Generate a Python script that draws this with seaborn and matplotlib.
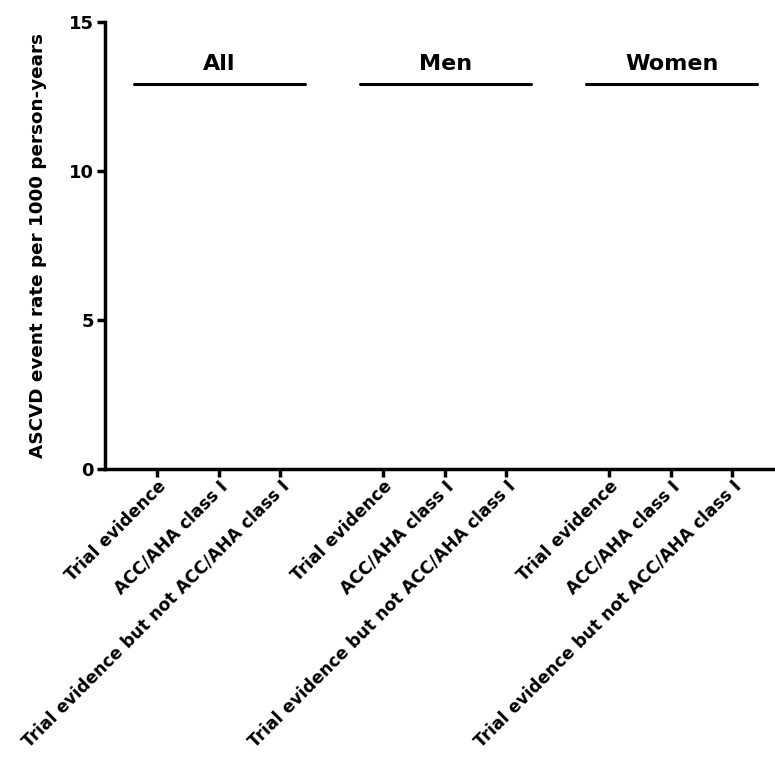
import matplotlib
matplotlib.use("Agg")
import matplotlib.pyplot as plt
import seaborn as sns
import pandas as pd
import numpy as np

groups = ["All", "Men", "Women"]
categories = ["Trial evidence", "ACC/AHA class I", "Trial evidence but not ACC/AHA class I"]
# No bars visible in the reference: all rates are empty/zero
rate_all = [0, 0, 0]
rate_men = [0, 0, 0]
rate_women = [0, 0, 0]
yticks = [0, 5, 10, 15]
ylabel = "ASCVD event rate per 1000 person-years"

sns.set_theme(style="ticks")
plt.rcParams['font.family'] = ['DejaVu Sans']
plt.rcParams['font.weight'] = 'bold'
plt.rcParams['text.color'] = 'black'
plt.rcParams['axes.labelcolor'] = 'black'
plt.rcParams['xtick.color'] = 'black'
plt.rcParams['ytick.color'] = 'black'

group_step = 3.67
rows = []
for gi, (g, vals) in enumerate(zip(groups, [rate_all, rate_men, rate_women])):
    for ci, (c, v) in enumerate(zip(categories, vals)):
        rows.append({"group": g, "category": c, "pos": gi * group_step + ci, "rate": v})
df = pd.DataFrame(rows)

fig = plt.figure(figsize=(7.75, 7.57), dpi=100)
ax = fig.add_axes([105/775, 1 - 469/757, 1 - 105/775, (469 - 22)/757])

sns.barplot(data=df, x="pos", y="rate", native_scale=True, color="black",
            width=0.6, ax=ax, errorbar=None)

ax.set_xlim(-0.845, 10.03)
ax.set_ylim(0, 15)
ax.set_yticks(yticks)
ax.set_yticklabels([str(t) for t in yticks], fontsize=13, fontweight='bold', color='black')
ax.set_xticks(df["pos"])
ax.set_xticklabels(df["category"], rotation=45, ha="right", rotation_mode="anchor",
                   fontsize=12.3, fontweight='bold', color='black')
ax.set_xlabel("")
ax.set_ylabel(ylabel, fontsize=13.2, fontweight='bold', labelpad=16, color='black')

for s in ["top", "right"]:
    ax.spines[s].set_visible(False)
for s in ["left", "bottom"]:
    ax.spines[s].set_linewidth(2.5)
    ax.spines[s].set_color("black")
ax.tick_params(axis="y", direction="out", length=6, width=2.5, colors="black", pad=2)
ax.tick_params(axis="x", direction="out", length=6, width=2.5, colors="black", pad=0)

# group brackets
for gi, g in enumerate(groups):
    start = gi * group_step
    x0 = start - 0.37
    x1 = start + 2 + 0.4
    ax.plot([x0, x1], [12.93, 12.93], color="black", lw=2.2, clip_on=False)
    ax.text((x0 + x1) / 2, 13.25, g, ha="center", va="bottom", fontsize=16,
            fontweight='bold', color='black')

fig.savefig("out.png", dpi=100)
